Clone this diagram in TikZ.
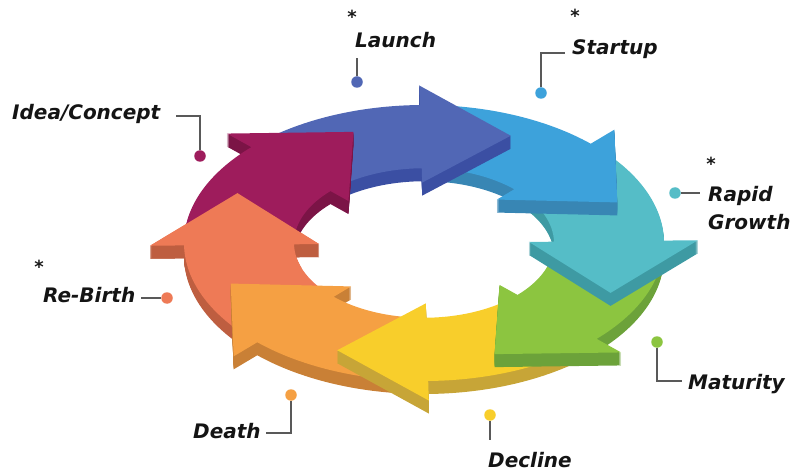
\documentclass[tikz,border=0pt]{standalone}
\usepackage{fontspec}
\setmainfont{DejaVu Sans}

% top faces and side faces of the eight ring arrows
\definecolor{ideaTop}{HTML}{9E1C5C}   \definecolor{ideaSide}{HTML}{7B1446}
\definecolor{launchTop}{HTML}{5167B5} \definecolor{launchSide}{HTML}{3B4FA3}
\definecolor{startTop}{HTML}{3DA2DB}  \definecolor{startSide}{HTML}{3886B4}
\definecolor{rapidTop}{HTML}{55BDC7}  \definecolor{rapidSide}{HTML}{3E9AA3}
\definecolor{matTop}{HTML}{8CC540}    \definecolor{matSide}{HTML}{6CA23A}
\definecolor{declTop}{HTML}{F8CE2B}   \definecolor{declSide}{HTML}{C7A537}
\definecolor{deathTop}{HTML}{F5A043}  \definecolor{deathSide}{HTML}{C98036}
\definecolor{rebTop}{HTML}{EE7A56}    \definecolor{rebSide}{HTML}{BE5E40}

% outline of one curved arrow lying flat on the ring;
% #1 = angle of the arrowhead base, the body spans 42 degrees behind it
\newcommand\arrowoutline[1]{({#1+42}:240) arc[start angle={#1+42}, end angle={#1}, radius=240]
  -- ({#1}:274) -- ({185*cos(#1)+90*sin(#1)},{185*sin(#1)-90*cos(#1)})
  -- ({#1}:105) -- ({#1}:130) arc[start angle={#1}, end angle={#1+42}, radius=130] -- cycle}

% extruded arrow: stacked side colour, then the top face
\newcommand\ringarrow[3]{%
  \foreach \dd in {1,...,13}{\fill[#3, yshift=-\dd pt, yscale=0.575] \arrowoutline{#1};}
  \fill[#2, yscale=0.575] \arrowoutline{#1};}

\begin{document}
\begin{tikzpicture}[x=1pt,y=1pt,
  lbl/.style={inner sep=0pt, anchor=mid west, text=black!92,
              font=\fontsize{20}{28}\selectfont\bfseries\itshape},
  starmark/.style={inner sep=0pt, text=black!90, font=\fontsize{18}{18}\selectfont\bfseries},
  dot/.style={circle, inner sep=0pt, minimum size=11.5pt},
  lead/.style={draw=black!65, line width=1.4pt}]
\useasboundingbox (0,0) rectangle (799,474);

% the ring of arrows, each head resting on the tail of the next stage
\begin{scope}[shift={(424,231)}]
  \ringarrow{181}{rebTop}{rebSide}
  \ringarrow{-134}{deathTop}{deathSide}
  \ringarrow{-89}{declTop}{declSide}
  \ringarrow{-44}{matTop}{matSide}
  \ringarrow{1}{rapidTop}{rapidSide}
  \ringarrow{46}{startTop}{startSide}
  \ringarrow{91}{launchTop}{launchSide}
  \ringarrow{136}{ideaTop}{ideaSide}
  % Re-Birth head lies over the tail of Idea/Concept
  \begin{scope}
    \clip (-300,-25) rectangle (0,200);
    \ringarrow{181}{rebTop}{rebSide}
  \end{scope}
\end{scope}

% stage labels
\node[lbl] (launch) at (355,429.3) {Launch};
\node[lbl] (startup) at (572,422.3) {Startup};
\node[lbl, anchor=north west, align=left] (rapid) at (708,288) {Rapid\\Growth};
\node[lbl] (maturity) at (688,87.3) {Maturity};
\node[lbl] (decline) at (488,9.3) {Decline};
\node[lbl] (death) at (193,38.3) {Death};
\node[lbl] (rebirth) at (43,174.3) {Re-Birth};
\node[lbl] (idea) at (12,357.3) {Idea/Concept};

% asterisks
\node[starmark] (launchStar) at (352,457) {*};
\node[starmark] (startupStar) at (575,458) {*};
\node[starmark] (rapidStar) at (711,310) {*};
\node[starmark] (rebirthStar) at (39,207) {*};

% marker dots
\node[dot, fill=launchTop] (launchDot) at (357,392) {};
\node[dot, fill=startTop] (startupDot) at (541,381) {};
\node[dot, fill=rapidTop] (rapidDot) at (675,281) {};
\node[dot, fill=matTop] (maturityDot) at (657,132) {};
\node[dot, fill=declTop] (declineDot) at (490,59) {};
\node[dot, fill=deathTop] (deathDot) at (291,79) {};
\node[dot, fill=rebTop] (rebirthDot) at (167,176) {};
\node[dot, fill=ideaTop] (ideaDot) at (200,318) {};

% leader line ends and elbows
\coordinate (launchEnd) at (357,416);
\coordinate (startupBend) at (541,421);
\coordinate (startupEnd) at (565,421);
\coordinate (rapidEnd) at (700,281);
\coordinate (maturityBend) at (657,93);
\coordinate (maturityEnd) at (682,93);
\coordinate (declineEnd) at (490,34);
\coordinate (deathBend) at (291,41);
\coordinate (deathEnd) at (266,41);
\coordinate (rebirthEnd) at (141,176);
\coordinate (ideaBend) at (200,358);
\coordinate (ideaEnd) at (176,358);

\draw[lead] (launchDot) -- (launchEnd);
\draw[lead] (startupDot) -- (startupBend) -- (startupEnd);
\draw[lead] (rapidDot) -- (rapidEnd);
\draw[lead] (maturityDot) -- (maturityBend) -- (maturityEnd);
\draw[lead] (declineDot) -- (declineEnd);
\draw[lead] (deathDot) -- (deathBend) -- (deathEnd);
\draw[lead] (rebirthDot) -- (rebirthEnd);
\draw[lead] (ideaDot) -- (ideaBend) -- (ideaEnd);
\end{tikzpicture}
\end{document}
